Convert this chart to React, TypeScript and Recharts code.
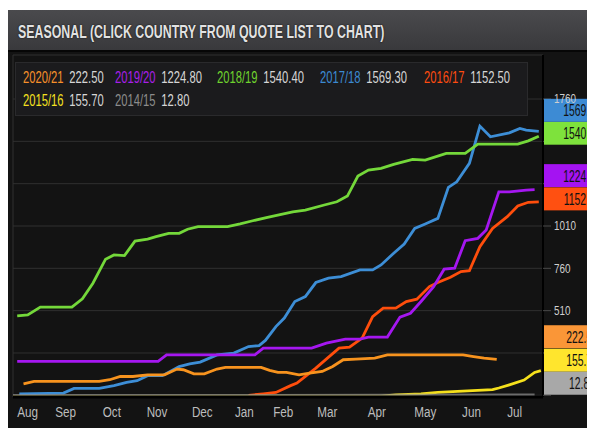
import React from 'react';
import { LineChart, Line, XAxis, YAxis, CartesianGrid, ReferenceDot } from 'recharts';

// ---- data (x = trading-day index within the season, y = cumulative value) ----
const seasons = ['2020/21', '2019/20', '2018/19', '2017/18', '2016/17', '2015/16', '2014/15'];
const lastValues = [222.5, 1224.8, 1540.4, 1569.3, 1152.5, 155.7, 12.8];
const lastLabels = ['222.50', '1224.80', '1540.40', '1569.30', '1152.50', '155.70', '12.80'];
const boxLabels = ['222.50', '1224.80', '1540.40', '1569.30', '1152.50', '155.70', '12.80'];
const monthLabels = ['Aug', 'Sep', 'Oct', 'Nov', 'Dec', 'Jan', 'Feb', 'Mar', 'Apr', 'May', 'Jun', 'Jul'];
const monthStarts = [0, 14, 36, 58, 79, 101, 119, 138, 161, 185, 207, 229, 248];
const yTicks = [10, 260, 510, 760, 1010, 1260, 1510, 1760];
const coveredTickLabels = [10, 260, 1260, 1510];

const s2020_21 = [[5, 78], [10, 92], [41, 92], [46, 102], [51, 121], [57, 121], [64, 131], [72, 131], [78, 165], [81, 161], [86, 137], [91, 137], [97, 165], [101, 175], [118, 175], [122, 157], [126, 145], [130, 145], [136, 131], [141, 141], [147, 151], [152, 180], [157, 220], [163, 224], [172, 230], [178, 249], [214, 249], [219, 239], [224, 230], [230, 222.5]];
const s2019_20 = [[2, 210], [69, 210], [73, 249], [115, 249], [119, 289], [142, 289], [149, 318], [158, 342], [165, 342], [169, 354], [178, 354], [184, 472], [189, 495], [194, 564], [200, 652], [205, 755], [210, 761], [215, 923], [221, 937], [225, 986], [231, 1212], [236, 1212], [244, 1222], [248, 1224.8]];
const s2018_19 = [[2, 479], [7, 485], [13, 531], [28, 531], [33, 580], [38, 672], [44, 814], [48, 839], [53, 835], [58, 921], [64, 932], [68, 947], [74, 967], [79, 967], [83, 991], [88, 1006], [102, 1006], [108, 1022], [114, 1041], [121, 1061], [127, 1077], [133, 1094], [139, 1104], [148, 1134], [154, 1153], [159, 1187], [164, 1305], [169, 1340], [175, 1350], [181, 1374], [190, 1403], [196, 1399], [206, 1439], [215, 1439], [221, 1494], [240, 1494], [245, 1513], [250, 1540.4]];
const s2017_18 = [[3, 19], [24, 23], [29, 51], [41, 51], [48, 67], [54, 86], [59, 96], [64, 126], [71, 126], [79, 180], [84, 196], [89, 206], [97, 249], [105, 259], [112, 298], [117, 304], [120, 334], [125, 416], [129, 466], [134, 564], [139, 593], [144, 676], [150, 702], [156, 711], [165, 751], [171, 751], [175, 780], [181, 849], [186, 904], [191, 996], [196, 1022], [202, 1055], [207, 1238], [211, 1271], [217, 1380], [222, 1600], [227, 1537], [236, 1560], [241, 1586], [244, 1576], [250, 1569.3]];
const s2016_17 = [[112, 10], [119, 19], [125, 27], [132, 67], [135, 82], [144, 171], [155, 289], [160, 295], [166, 348], [171, 475], [176, 525], [182, 525], [187, 564], [192, 578], [198, 652], [202, 676], [208, 707], [213, 741], [217, 746], [222, 888], [228, 996], [235, 1065], [240, 1128], [245, 1150], [250, 1152.5]];
const s2015_16 = [[0, 4], [175, 5], [182, 13], [194, 18], [202, 27], [228, 43], [231, 53], [236, 72], [243, 100], [248, 145], [251, 155.7]];
const s2014_15 = [[0, 9], [120, 10], [248, 12.8]];

// ---- styles ----
const lineColors = ['#f7931e', '#a517f0', '#74d83a', '#3d8ed6', '#ff4e0c', '#f5e01c', '#8e8e8e'];
const nameColors = ['#f7902a', '#a81fe8', '#6fd22e', '#3b8ad2', '#ff4c10', '#f4e020', '#8c8c8c'];
const boxColors = ['#fa9637', '#a413f2', '#7ee23c', '#3d8bd4', '#ff5011', '#ffe52d', '#a8a8a8'];
const boxNudge = [-22.6, -14, -3, -21, -3, -10.4, -11.6];
const legendCols = [7, 99, 201, 304, 408];
const legendRows = [15, 38];

const seriesData = [s2020_21, s2019_20, s2018_19, s2017_18, s2016_17, s2015_16, s2014_15].map((arr) =>
  arr.map(([d, v]) => ({ d, v }))
);
const drawOrder = [4, 3, 2, 1, 0, 5, 6];
const monthMids = monthLabels.map((_, i) => (monthStarts[i] + monthStarts[i + 1]) / 2);
const labelByMid = new Map(monthMids.map((m, i) => [m, monthLabels[i]]));

const FONT = "'Liberation Sans', Arial, sans-serif";

const XTick = (props: any) => {
  const { x, y, payload } = props;
  return (
    <text transform={`translate(${x},${y}) scale(0.78,1)`} x={0} y={0} dy={20} textAnchor="middle"
      fill="#bdbdbd" fontSize={15} fontFamily={FONT}>
      {labelByMid.get(payload.value)}
    </text>
  );
};

const YTick = (props: any) => {
  const { x, y, payload } = props;
  if (coveredTickLabels.includes(payload.value)) return <g />;
  return (
    <text transform={`translate(${x},${y}) scale(0.79,1)`} x={0} y={0} dy="0.35em" textAnchor="start"
      fill="#cfcfcf" fontSize={12.5} fontFamily={FONT}>
      {payload.value}
    </text>
  );
};

const makeBox = (i: number) => (props: any) => {
  const { cx, cy } = props;
  const top = cy + boxNudge[i] - 11.5;
  return (
    <g>
      <rect x={cx + 1} y={top} width={80} height={23} fill={boxColors[i]} />
      <text transform={`translate(${cx + 39},${top + 11.5}) scale(0.63,1)`} x={0} y={0} dy="0.36em"
        textAnchor="middle" fill="#111" fontSize={16.5} fontFamily={FONT}>
        {boxLabels[i]}
      </text>
    </g>
  );
};

export default function App() {
  return (
    <div style={{ position: 'relative', top: 2, width: 587, height: 420, background: '#131313', overflow: 'hidden', fontFamily: FONT }}>
      <div style={{ position: 'absolute', left: 0, top: 0, width: 587, height: 42, boxSizing: 'border-box',
        background: 'linear-gradient(#4a4a4d, #39393c)', borderBottom: '2px solid #060606' }}>
        <div style={{ position: 'absolute', left: 10, top: 1, lineHeight: '42px', fontSize: 18, fontWeight: 'bold',
          color: '#e2e2e2', whiteSpace: 'nowrap', transform: 'scaleX(0.687)', transformOrigin: 'left center',
          textShadow: '0 0 2px #000' }}>
          SEASONAL (CLICK COUNTRY FROM QUOTE LIST TO CHART)
        </div>
      </div>
      <div style={{ position: 'absolute', left: 0, top: 42 }}>
        <LineChart width={587} height={378} margin={{ top: 3, right: 0, bottom: 0, left: 5 }}>
          <XAxis xAxisId="g" type="number" dataKey="d" domain={[0, 252]} ticks={monthStarts} height={0}
            axisLine={false} tick={false} tickLine={{ stroke: '#3a3a3a' }} tickSize={9} />
          <XAxis xAxisId="m" type="number" dataKey="d" domain={[0, 252]} ticks={monthMids} height={33}
            axisLine={{ stroke: '#000', strokeWidth: 3 }} tickLine={false} tickSize={0} tickMargin={0}
            tick={<XTick />} interval={0} />
          <YAxis yAxisId="y" orientation="right" width={52} domain={[0, 2020]} ticks={yTicks} interval={0}
            axisLine={{ stroke: '#000', strokeWidth: 2 }} tickLine={{ stroke: '#4a4a4a' }} tickSize={8}
            tickMargin={3} tick={<YTick />} />
          <CartesianGrid xAxisId="g" yAxisId="y" stroke="#303030" strokeWidth={1} />
          {drawOrder.map((i) => (
            <Line key={seasons[i]} xAxisId="m" yAxisId="y" data={seriesData[i]} dataKey="v" name={seasons[i]}
              type="linear" stroke={lineColors[i]} strokeWidth={2.8} dot={false}
              strokeOpacity={i === 6 ? 0.7 : 1} isAnimationActive={false} />
          ))}
          {lastValues.map((v, i) => (
            <ReferenceDot key={'b' + i} xAxisId="m" yAxisId="y" x={252} y={v} r={0} ifOverflow="visible"
              shape={makeBox(i)} />
          ))}
        </LineChart>
      </div>
      <div style={{ position: 'absolute', left: 7, top: 52, width: 513, height: 54, boxSizing: 'border-box',
        background: '#1b1b1d', border: '1px solid #2a2a2c' }}>
        {seasons.map((s, i) => {
          const row = i < 5 ? 0 : 1;
          const col = i < 5 ? i : i - 5;
          return (
            <div key={s} style={{ position: 'absolute', left: legendCols[col], top: legendRows[row] - 11,
              lineHeight: '22px', fontSize: 17, whiteSpace: 'nowrap', transform: 'scaleX(0.66)',
              transformOrigin: 'left center' }}>
              <span style={{ color: nameColors[i], marginRight: 4 }}>{s}</span>{' '}
              <span style={{ color: '#d6d6d6' }}>{lastLabels[i]}</span>
            </div>
          );
        })}
      </div>
    </div>
  );
}
